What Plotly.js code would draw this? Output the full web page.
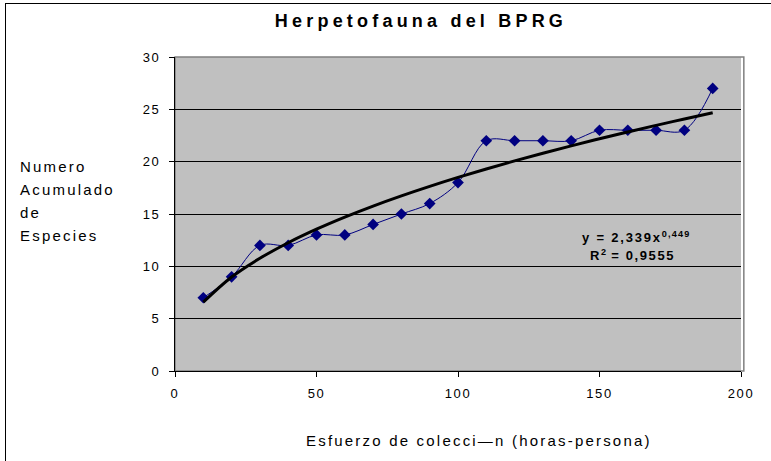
<!DOCTYPE html>
<html>
<head>
<meta charset="utf-8">
<script src="https://cdn.plot.ly/plotly-3.0.1.min.js"></script>
<style>
html,body{margin:0;padding:0;background:#fff;overflow:hidden;}
#wrap{position:relative;width:771px;height:461px;}
#chart{position:absolute;left:0;top:0;width:771px;height:461px;}
#frame{position:absolute;left:5px;top:3px;width:800px;height:500px;border:1px solid #000;pointer-events:none;}
</style>
</head>
<body>
<div id="wrap"><div id="chart"></div><div id="frame"></div></div>
<script>
// Data
const effortHours = [10, 20, 30, 40, 50, 60, 70, 80, 90, 100, 110, 120, 130, 140, 150, 160, 170, 180, 190];
const cumulativeSpecies = [7, 9, 12, 12, 13, 13, 14, 15, 16, 18, 22, 22, 22, 22, 23, 23, 23, 23, 27];
// Power trendline coefficients as printed on the chart: y = a * x^b
const trendA = 2.339;
const trendB = 0.449;
const trendX = effortHours;
const trendY = trendX.map(x => trendA * Math.pow(x, trendB));
const xTicks = [0, 50, 100, 150, 200];
const yTicks = [0, 5, 10, 15, 20, 25, 30];
const yTitleLines = ['Numero', 'Acumulado', 'de', 'Especies'];
const xTitle = 'Esfuerzo de colecci—n (horas-persona)';
const chartTitle = 'Herpetofauna del BPRG';

const font = "Liberation Sans, Arial, sans-serif";
const sp = (t, ls) => '<span style="letter-spacing:' + ls + 'px">' + t + '</span>';

const traces = [
  {
    x: effortHours, y: cumulativeSpecies, type: 'scatter', mode: 'lines+markers',
    line: {color: '#000080', width: 1, shape: 'spline', smoothing: 1},
    marker: {symbol: 'diamond', size: 9, color: '#000080'},
    hoverinfo: 'skip', showlegend: false
  },
  {
    x: trendX, y: trendY, type: 'scatter', mode: 'lines',
    line: {color: '#000000', width: 3, shape: 'spline'},
    hoverinfo: 'skip', showlegend: false
  }
];

const yTitleY = [0.650, 0.577, 0.506, 0.433];
const annotations = yTitleLines.map((t, i) => ({
  xref: 'paper', yref: 'paper', x: -0.277, y: yTitleY[i], xanchor: 'left', yanchor: 'middle',
  showarrow: false, text: sp(t, 2.2), font: {family: font, size: 15, color: '#000'}
}));
annotations.push(
  {xref: 'paper', yref: 'paper', x: 0.537, y: -0.22, xanchor: 'center', yanchor: 'middle', showarrow: false,
   text: sp(xTitle, 2.2), font: {family: font, size: 15, color: '#000'}},
  {xref: 'paper', yref: 'paper', x: 0.816, y: 0.426, xanchor: 'center', yanchor: 'middle', showarrow: false,
   text: '<b>' + sp('y = 2,339x', 1.8) + '<sup>' + sp('0,449', 1.2) + '</sup></b>', font: {family: font, size: 13, color: '#000'}},
  {xref: 'paper', yref: 'paper', x: 0.808, y: 0.369, xanchor: 'center', yanchor: 'middle', showarrow: false,
   text: '<b>' + sp('R', 1.6) + '<sup>2</sup>' + sp(' = 0,9555', 1.6) + '</b>', font: {family: font, size: 13, color: '#000'}}
);

const layout = {
  width: 771, height: 461,
  margin: {l: 175, r: 30, t: 57, b: 90},
  paper_bgcolor: '#ffffff',
  plot_bgcolor: '#c0c0c0',
  font: {family: font, size: 12, color: '#000'},
  title: {text: '<b>' + sp(chartTitle, 4.2) + '</b>', font: {family: font, size: 18, color: '#000'}, x: 0.546, xanchor: 'center', y: 0.955, yanchor: 'middle'},
  xaxis: {
    range: [0, 200], tickvals: xTicks, ticktext: xTicks.map(v => sp(String(v), 1.6)),
    showgrid: false, zeroline: false, showline: true, linecolor: '#000', linewidth: 1,
    ticks: 'outside', ticklen: 5, tickcolor: '#000', tickwidth: 1, ticklabelstandoff: 5,
    tickfont: {family: font, size: 13, color: '#000'}
  },
  yaxis: {
    range: [0, 30], tickvals: yTicks, ticktext: yTicks.map(v => sp(String(v), 1.6)),
    showgrid: true, gridcolor: '#000', gridwidth: 1, zeroline: false,
    showline: true, linecolor: '#000', linewidth: 1,
    ticks: 'outside', ticklen: 5, tickcolor: '#000', tickwidth: 1, ticklabelstandoff: 6,
    tickfont: {family: font, size: 13, color: '#000'}
  },
  shapes: [
    {type: 'rect', xref: 'paper', yref: 'paper', x0: 0, x1: 1.005, y0: 0, y1: 1, line: {color: '#808080', width: 1.5}, layer: 'below'}
  ],
  annotations: annotations
};

Plotly.newPlot('chart', traces, layout, {displayModeBar: false, staticPlot: true});
</script>
</body>
</html>
